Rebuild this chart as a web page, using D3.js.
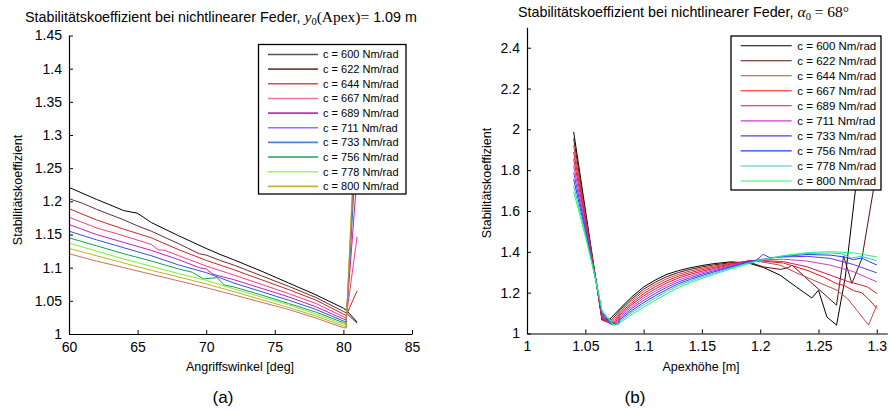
<!DOCTYPE html>
<html><head><meta charset="utf-8">
<script src="https://cdn.jsdelivr.net/npm/d3@7"></script>
<style>
body{margin:0;background:#fff;}
svg{display:block;font-family:"Liberation Sans",Arial,sans-serif;}
</style></head>
<body><svg id="c" width="889" height="415"></svg>
<script>
// ---------- data ----------
const legendLabels = ["c = 600 Nm/rad","c = 622 Nm/rad","c = 644 Nm/rad","c = 667 Nm/rad","c = 689 Nm/rad",
  "c = 711 Nm/rad","c = 733 Nm/rad","c = 756 Nm/rad","c = 778 Nm/rad","c = 800 Nm/rad"];

// (a) Angriffswinkel [deg] vs Stabilitaetskoeffizient, [x, y] pairs per spring constant
const leftS0 = [[60,1.221],[62,1.203],[64,1.186],[65,1.182],[66,1.168],[68,1.148],[70,1.129],[71,1.120],[72,1.112],[74,1.095],[76,1.077],[78,1.059],[80,1.039],[80.2,1.036],[81,1.018]];
const leftS1 = [[60,1.204],[61,1.197],[62,1.188],[64,1.172],[65,1.163],[66,1.155],[68,1.136],[69.5,1.121],[70,1.119],[71,1.111],[72,1.104],[74,1.088],[76,1.072],[78,1.055],[80,1.034],[80.2,1.032],[81,1.016]];
const leftS2 = [[60,1.189],[62,1.172],[64,1.158],[66,1.145],[68,1.127],[70,1.111],[72,1.097],[74,1.082],[76,1.067],[78,1.051],[80,1.030],[80.2,1.028],[81,1.065]];
const leftS3 = [[60,1.176],[61,1.168],[62,1.160],[64,1.148],[66,1.135],[66.5,1.127],[67,1.126],[68,1.118],[70,1.1025],[72,1.089],[74,1.075],[76,1.061],[78,1.046],[80,1.026],[80.2,1.024],[81,1.147]];
const leftS4 = [[60,1.165],[62,1.150],[64,1.138],[66,1.126],[68,1.112],[69.5,1.100],[70,1.098],[70.5,1.090],[72,1.082],[74,1.069],[76,1.056],[78,1.041],[80,1.0226],[80.2,1.021],[81,1.24]];
const leftS5 = [[60,1.155],[62,1.142],[64,1.130],[66,1.118],[68,1.104],[70,1.0925],[72,1.077],[74,1.064],[76,1.051],[78,1.037],[80,1.0196],[80.2,1.018],[81,1.30]];
const leftS6 = [[60,1.145],[62,1.133],[64,1.121],[66,1.110],[68,1.098],[69,1.093],[69.8,1.083],[70.8,1.085],[71.3,1.074],[72,1.071],[74,1.059],[76,1.046],[78,1.033],[80,1.0171],[80.2,1.016],[81,1.33]];
const leftS7 = [[60,1.137],[62,1.125],[64,1.113],[66,1.102],[68,1.091],[70,1.081],[72,1.068],[74,1.056],[76,1.044],[78,1.030],[80,1.0147],[80.2,1.014],[81,1.36]];
const leftS8 = [[60,1.129],[62,1.118],[64,1.107],[66,1.096],[68,1.086],[70,1.0754],[72,1.064],[74,1.052],[76,1.040],[78,1.027],[80,1.0121],[80.2,1.011],[81,1.38]];
const leftS9 = [[60,1.121],[62,1.110],[64,1.100],[66,1.090],[68,1.080],[70,1.0698],[72,1.059],[74,1.048],[76,1.037],[78,1.024],[80,1.0095],[80.2,1.009],[81,1.35]];
const leftSeries = [leftS0,leftS1,leftS2,leftS3,leftS4,leftS5,leftS6,leftS7,leftS8,leftS9];
const leftXTicks = [60,65,70,75,80,85];
const leftYTicks = [1,1.05,1.1,1.15,1.2,1.25,1.3,1.35,1.4,1.45];

// (b) Apexhoehe [m] vs Stabilitaetskoeffizient
const rightS0 = [[1.04,1.988],[1.05,1.608],[1.06,1.228],[1.0643,1.065],[1.0675,1.076],[1.071,1.07],
  [1.08,1.124],[1.09,1.180],[1.10,1.228],[1.11,1.262],[1.12,1.290],[1.13,1.308],[1.14,1.322],[1.15,1.333],[1.16,1.342],[1.175,1.351],[1.19,1.345],
  [1.203,1.323],[1.217,1.286],[1.231,1.228],[1.2443,1.174],[1.25,1.212],[1.2572,1.081],[1.2655,1.041],[1.273,1.277],[1.2816,1.70],[1.29,2.1],[1.3,2.35]];
const rightS1 = [[1.04,1.955],[1.05,1.593],[1.06,1.229],[1.0643,1.070],[1.0654,1.062],[1.069,1.070],[1.0725,1.066],
  [1.08,1.116],[1.09,1.170],[1.10,1.217],[1.11,1.251],[1.12,1.279],[1.13,1.299],[1.14,1.314],[1.15,1.326],[1.16,1.336],[1.175,1.347],[1.19,1.350],
  [1.203,1.326],[1.2172,1.314],[1.2244,1.323],[1.2273,1.335],[1.243,1.253],[1.2655,1.139],[1.2715,1.38],[1.2786,1.245],[1.2872,1.367],[1.297,1.70],[1.3,1.80]];
const rightS2 = [[1.04,1.922],[1.05,1.578],[1.06,1.230],[1.0643,1.076],[1.0665,1.059],[1.070,1.064],[1.0735,1.060],
  [1.08,1.108],[1.09,1.161],[1.10,1.206],[1.11,1.240],[1.12,1.269],[1.13,1.290],[1.14,1.306],[1.15,1.319],[1.16,1.330],[1.175,1.343],[1.19,1.354],
  [1.2,1.352],[1.217,1.335],[1.23,1.300],[1.2457,1.261],[1.2658,1.212],[1.275,1.170],[1.2829,1.114],[1.2929,1.041],[1.3,1.139]];
const rightS3 = [[1.04,1.889],[1.05,1.563],[1.06,1.231],[1.0643,1.081],[1.0677,1.057],[1.071,1.060],[1.0745,1.055],
  [1.08,1.100],[1.09,1.151],[1.10,1.195],[1.11,1.229],[1.12,1.258],[1.13,1.281],[1.14,1.298],[1.15,1.312],[1.16,1.324],[1.175,1.340],[1.19,1.356],
  [1.2,1.356],[1.22,1.345],[1.24,1.310],[1.255,1.275],[1.265,1.245],[1.272,1.235],[1.28,1.210],[1.287,1.200],[1.293,1.168],[1.3,1.123]];
const rightS4 = [[1.04,1.856],[1.05,1.549],[1.06,1.231],[1.0643,1.087],[1.0688,1.054],[1.072,1.056],[1.0755,1.052],
  [1.08,1.092],[1.09,1.142],[1.10,1.184],[1.11,1.218],[1.12,1.248],[1.13,1.272],[1.14,1.290],[1.15,1.305],[1.16,1.318],[1.175,1.336],[1.19,1.356],
  [1.2,1.358],[1.22,1.352],[1.24,1.327],[1.26,1.286],[1.275,1.255],[1.285,1.240],[1.292,1.228],[1.3,1.196]];
const rightS5 = [[1.04,1.822],[1.05,1.534],[1.06,1.232],[1.0643,1.092],[1.0699,1.051],[1.0765,1.050],
  [1.08,1.085],[1.09,1.132],[1.10,1.173],[1.11,1.207],[1.12,1.237],[1.13,1.262],[1.14,1.281],[1.15,1.298],[1.16,1.313],[1.175,1.332],[1.19,1.355],
  [1.2,1.360],[1.22,1.364],[1.24,1.355],[1.26,1.335],[1.28,1.303],[1.3,1.253]];
const rightS6 = [[1.04,1.789],[1.05,1.519],[1.06,1.232],[1.0643,1.098],[1.071,1.048],[1.0775,1.047],
  [1.08,1.077],[1.09,1.123],[1.10,1.162],[1.11,1.196],[1.12,1.227],[1.13,1.253],[1.14,1.273],[1.15,1.291],[1.16,1.307],[1.175,1.328],[1.19,1.353],
  [1.197,1.360],[1.2025,1.388],[1.208,1.372],[1.22,1.375],[1.24,1.378],[1.26,1.368],[1.28,1.338],[1.3,1.297]];
const rightS7 = [[1.04,1.756],[1.05,1.504],[1.06,1.233],[1.0643,1.103],[1.0721,1.045],[1.078,1.046],
  [1.08,1.069],[1.09,1.113],[1.10,1.151],[1.11,1.185],[1.12,1.216],[1.13,1.244],[1.14,1.265],[1.15,1.284],[1.16,1.301],[1.175,1.325],[1.19,1.350],
  [1.2,1.362],[1.22,1.378],[1.24,1.387],[1.26,1.384],[1.272,1.375],[1.28,1.362],[1.287,1.370],[1.3,1.335]];
const rightS8 = [[1.04,1.723],[1.05,1.490],[1.06,1.233],[1.0643,1.109],[1.0733,1.043],[1.0785,1.045],
  [1.08,1.061],[1.09,1.104],[1.10,1.140],[1.11,1.174],[1.12,1.206],[1.13,1.235],[1.14,1.257],[1.15,1.277],[1.16,1.295],[1.175,1.321],[1.19,1.346],
  [1.2,1.360],[1.22,1.380],[1.24,1.392],[1.26,1.394],[1.27,1.390],[1.278,1.370],[1.287,1.378],[1.3,1.356]];
const rightS9 = [[1.04,1.694],[1.0457,1.572],[1.0515,1.441],[1.0571,1.310],[1.0614,1.196],[1.0643,1.114],[1.0714,1.065],[1.0744,1.040],
  [1.08,1.053],[1.09,1.094],[1.10,1.129],[1.11,1.163],[1.12,1.195],[1.13,1.226],[1.14,1.249],[1.15,1.270],[1.16,1.289],[1.175,1.317],[1.19,1.342],
  [1.2,1.358],[1.22,1.382],[1.24,1.396],[1.26,1.401],[1.28,1.395],[1.3,1.375]];
const rightSeries = [rightS0,rightS1,rightS2,rightS3,rightS4,rightS5,rightS6,rightS7,rightS8,rightS9];
const rightXTicks = [1,1.05,1.1,1.15,1.2,1.25,1.3];
const rightYTicks = [1,1.2,1.4,1.6,1.8,2,2.2,2.4];

// ---------- styles ----------
const leftLineColors   = ["#000000","#6e2c2c","#cc2424","#ff3a78","#c21cc2","#2a55e0","#14a04c","#72f530","#c2b018","#c87064"];
const leftLegendColors = ["#555555","#7a4545","#d05050","#ff70a0","#c030c0","#9070ff","#4a86d0","#20a060","#90ff60","#c8b030"];
const rightColors      = ["#000000","#5a1010","#b84a4a","#ff1010","#e0124e","#cc3ccc","#6a30e6","#1a40ff","#40c4c4","#18ff6a"];

const svg = d3.select("#c");
const fmt = d => String(+d.toFixed(2));

function panel(o){
  const x = d3.scaleLinear().domain(o.xDom).range(o.xRange);
  const y = d3.scaleLinear().domain(o.yDom).range(o.yRange);
  const g = svg.append("g");
  const clipId = "clip" + o.id;
  svg.append("clipPath").attr("id", clipId).append("rect")
    .attr("x", o.xRange[0]).attr("y", o.yRange[1])
    .attr("width", o.xRange[1]-o.xRange[0]).attr("height", o.yRange[0]-o.yRange[1]);
  const line = d3.line().x(d => x(d[0])).y(d => y(d[1]));
  g.append("g").attr("clip-path", `url(#${clipId})`).selectAll("path").data(o.series).join("path")
    .attr("d", line).attr("fill","none").attr("stroke",(d,i)=>o.colors[i]).attr("stroke-width",1)
    .attr("stroke-linejoin","round");
  // axes
  const xa = g.append("g").attr("transform",`translate(0,${o.yRange[0]})`)
    .call(d3.axisBottom(x).tickValues(o.xTicks).tickFormat(fmt).tickSizeInner(-4).tickSizeOuter(0).tickPadding(8));
  const ya = g.append("g").attr("transform",`translate(${o.xRange[0]},0)`)
    .call(d3.axisLeft(y).tickValues(o.yTicks).tickFormat(fmt).tickSizeInner(-4).tickSizeOuter(0).tickPadding(7));
  [xa,ya].forEach(a=>{
    a.selectAll("text").attr("font-size",14).attr("font-family","Liberation Sans, Arial, sans-serif").attr("fill","#000");
    a.selectAll("line").attr("stroke","#000");
    a.select(".domain").attr("stroke","#000").attr("stroke-width",1.2);
  });
  // legend
  const L = o.legend;
  const lg = g.append("g");
  lg.append("rect").attr("x",L.x).attr("y",L.y).attr("width",L.w).attr("height",L.h)
    .attr("fill","#fff").attr("stroke","#000").attr("stroke-width",1.3);
  legendLabels.forEach((t,i)=>{
    const yy = L.row0 + i*L.step;
    lg.append("line").attr("x1",L.lx1).attr("x2",L.lx2).attr("y1",yy).attr("y2",yy)
      .attr("stroke",L.colors[i]).attr("stroke-width",L.lw);
    lg.append("text").attr("x",L.tx).attr("y",yy).attr("dy","0.35em").attr("font-size",L.fs).text(t);
  });
}

panel({id:"a", xDom:[60,85], xRange:[69,412], yDom:[1,1.45], yRange:[334,35.5],
  series:leftSeries, colors:leftLineColors, xTicks:leftXTicks, yTicks:leftYTicks,
  legend:{x:258.5,y:44.5,w:147.5,h:149.5,row0:54.5,step:14.65,lx1:268,lx2:318,tx:323,fs:11,lw:1.6,colors:leftLegendColors}});
panel({id:"b", xDom:[1,1.309], xRange:[527,887.3], yDom:[1,2.5], yRange:[333.5,27.3],
  series:rightSeries, colors:rightColors, xTicks:rightXTicks, yTicks:rightYTicks,
  legend:{x:731,y:36,w:150,h:154,row0:45.7,step:15.03,lx1:740.7,lx2:791.7,tx:797.3,fs:11.5,lw:1.1,colors:rightColors}});

// titles
const t1 = svg.append("text").attr("x",25).attr("y",22).attr("font-size",14.3);
t1.append("tspan").text("Stabilitätskoeffizient bei nichtlinearer Feder, ");
t1.append("tspan").attr("font-family","Liberation Serif, serif").attr("font-style","italic").attr("font-size",15.5).text("y");
t1.append("tspan").attr("font-family","Liberation Serif, serif").attr("font-size",10.5).attr("dy",3).text("0");
t1.append("tspan").attr("font-family","Liberation Serif, serif").attr("font-size",15.5).attr("dy",-3).text("(Apex)= ");
t1.append("tspan").text("1.09 m");

const t2 = svg.append("text").attr("x",518).attr("y",17).attr("font-size",14.3);
t2.append("tspan").text("Stabilitätskoeffizient bei nichtlinearer Feder, ");
t2.append("tspan").attr("font-family","Liberation Serif, serif").attr("font-style","italic").attr("font-size",15.5).text("α");
t2.append("tspan").attr("font-family","Liberation Serif, serif").attr("font-size",10.5).attr("dy",3).text("0");
t2.append("tspan").attr("font-family","Liberation Serif, serif").attr("font-size",15.5).attr("dy",-3).text(" = 68°");

// axis labels
svg.append("text").attr("transform","translate(22,190) rotate(-90)").attr("text-anchor","middle").attr("font-size",12.5).text("Stabilitätskoeffizient");
svg.append("text").attr("transform","translate(491,183) rotate(-90)").attr("text-anchor","middle").attr("font-size",12.5).text("Stabilitätskoeffizient");
svg.append("text").attr("x",240).attr("y",371).attr("text-anchor","middle").attr("font-size",12.5).text("Angriffswinkel [deg]");
svg.append("text").attr("x",701).attr("y",371).attr("text-anchor","middle").attr("font-size",12.5).text("Apexhöhe [m]");
svg.append("text").attr("x",223).attr("y",403).attr("text-anchor","middle").attr("font-size",17).text("(a)");
svg.append("text").attr("x",635).attr("y",403).attr("text-anchor","middle").attr("font-size",17).text("(b)");
</script></body></html>
